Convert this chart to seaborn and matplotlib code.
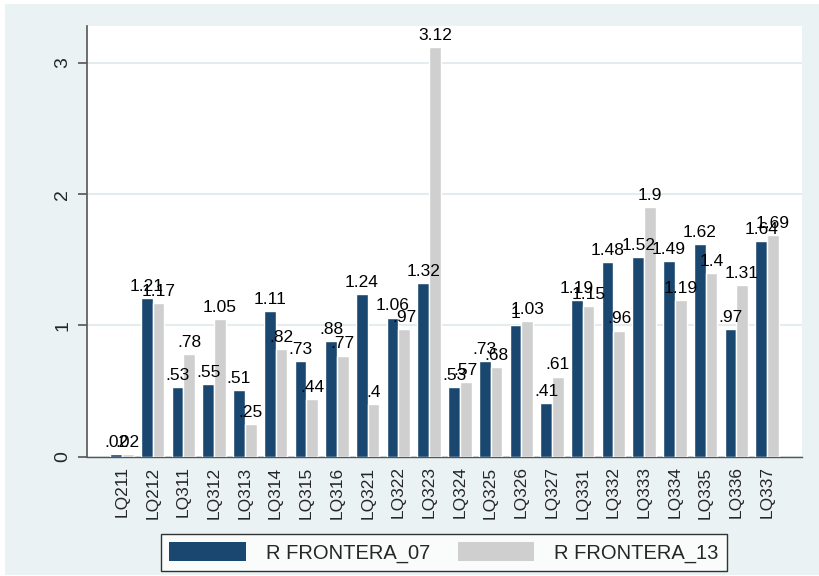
import matplotlib
matplotlib.use('Agg')
import matplotlib.pyplot as plt
import seaborn as sns
import pandas as pd
from matplotlib.patches import Rectangle

categories = ["LQ211", "LQ212", "LQ311", "LQ312", "LQ313", "LQ314", "LQ315", "LQ316",
              "LQ321", "LQ322", "LQ323", "LQ324", "LQ325", "LQ326", "LQ327",
              "LQ331", "LQ332", "LQ333", "LQ334", "LQ335", "LQ336", "LQ337"]
frontera_07 = [0.02, 1.21, 0.53, 0.55, 0.51, 1.11, 0.73, 0.88, 1.24, 1.06, 1.32,
               0.53, 0.73, 1.00, 0.41, 1.19, 1.48, 1.52, 1.49, 1.62, 0.97, 1.64]
frontera_13 = [0.02, 1.17, 0.78, 1.05, 0.25, 0.82, 0.44, 0.77, 0.40, 0.97, 3.12,
               0.57, 0.68, 1.03, 0.61, 1.15, 0.96, 1.90, 1.19, 1.40, 1.31, 1.69]
series = ["R FRONTERA_07", "R FRONTERA_13"]
colors = ["#1A476F", "#CFCFCF"]
yticks = [0, 1, 2, 3]

df = pd.DataFrame({
    "cat": categories * 2,
    "val": frontera_07 + frontera_13,
    "serie": [series[0]] * len(categories) + [series[1]] * len(categories),
})


def stata_fmt(v):
    # Stata style: .53, 1, 1.9
    s = f"{v:.2f}".rstrip("0").rstrip(".")
    if s.startswith("0."):
        s = s[1:]
    return s


sns.set_style("white")
plt.rcParams['font.family'] = ['Liberation Sans', 'DejaVu Sans']

bg = "#EAF2F3"
fig = plt.figure(figsize=(8.19, 5.76), dpi=100, facecolor="white")
fig.patches.append(Rectangle((5 / 819, 1 / 576), 1, (571 / 576), transform=fig.transFigure,
                             facecolor=bg, edgecolor="none", zorder=-10))
ax = fig.add_axes([87 / 819, 1 - 456.7 / 576, (802 - 87) / 819, (456.7 - 26) / 576])
ax.set_facecolor("white")

sns.barplot(data=df, x="cat", y="val", hue="serie", palette=colors, width=0.76,
            saturation=1, ax=ax, legend=False, zorder=3)

for cont in ax.containers:
    ax.bar_label(cont, labels=[stata_fmt(v) for v in cont.datavalues],
                 padding=3, fontsize=12.5, color="black")

ax.set_xlim(-1.14, 22.14)
ax.set_ylim(0, 3.28)
ax.set_yticks(yticks)
ax.set_yticklabels([str(t) for t in yticks], rotation=90, va="center", fontsize=14)
ax.tick_params(axis="y", length=6.5, width=1.2, color="#555555", pad=5, left=True)
ax.tick_params(axis="x", length=0, pad=7, labelsize=12.5, labelrotation=90)
for lab in ax.get_xticklabels():
    lab.set_va("top")
ax.grid(axis="y", color="#E3ECEF", linewidth=1.5, zorder=0)
ax.set_axisbelow(True)
ax.set_xlabel("")
ax.set_ylabel("")

for s in ["top", "right"]:
    ax.spines[s].set_visible(False)
ax.spines["left"].set_color("#555555")
ax.spines["left"].set_linewidth(1.2)
ax.spines["bottom"].set_color("#555555")
ax.spines["bottom"].set_linewidth(1.0)

handles = [Rectangle((0, 0), 1, 1, facecolor=c, edgecolor="none") for c in colors]
leg = fig.legend(handles, series, ncol=2, loc="center", bbox_to_anchor=(444 / 819, 1 - 552.5 / 576),
                 fontsize=14.5, frameon=True, fancybox=False, handlelength=3.8,
                 handleheight=1.1, handletextpad=1.0, columnspacing=1.35, borderpad=0.4)
leg.get_frame().set_edgecolor("black")
leg.get_frame().set_linewidth(1.0)
leg.get_frame().set_facecolor("white")

fig.savefig("out.png", dpi=100, facecolor=fig.get_facecolor())
